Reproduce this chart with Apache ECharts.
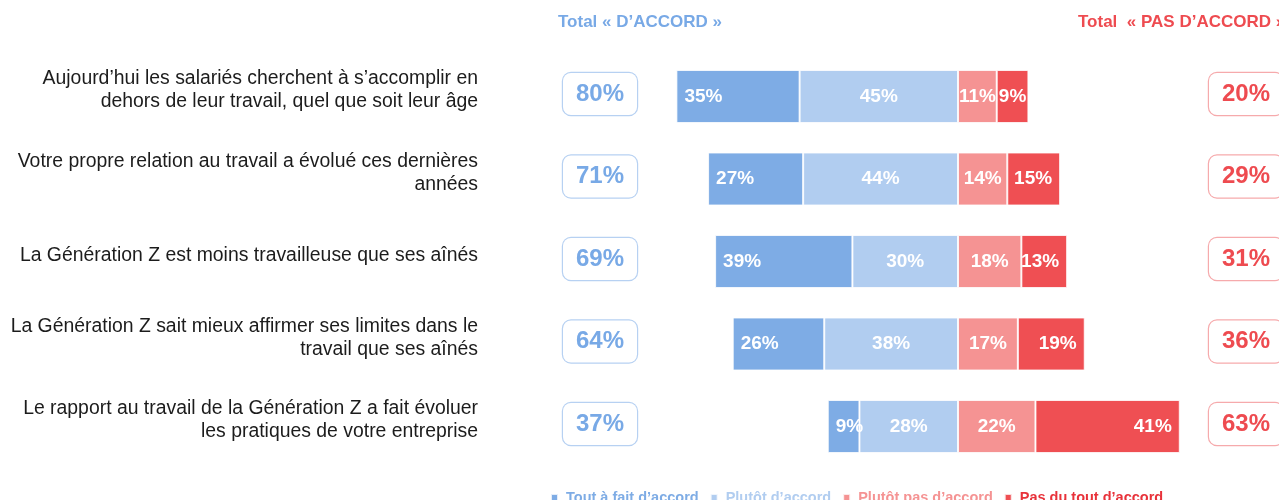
<!DOCTYPE html>
<html>
<head>
<meta charset="utf-8">
<script src="https://cdn.jsdelivr.net/npm/echarts@6/dist/echarts.min.js"></script>
<style>
  html, body { margin: 0; padding: 0; background: #fff; }
  #chart { width: 1279px; height: 500px; }
</style>
</head>
<body>
<div id="chart"></div>
<script>
const categories = [
  'Aujourd’hui les salariés cherchent à s’accomplir en\ndehors de leur travail, quel que soit leur âge',
  'Votre propre relation au travail a évolué ces dernières\nannées',
  'La Génération Z est moins travailleuse que ses aînés',
  'La Génération Z sait mieux affirmer ses limites dans le\ntravail que ses aînés',
  'Le rapport au travail de la Génération Z a fait évoluer\nles pratiques de votre entreprise'
];
const toutAFait = [35, 27, 39, 26, 9];
const plutot = [45, 44, 30, 38, 28];
const plutotPas = [11, 14, 18, 17, 22];
const pasDuTout = [9, 15, 13, 19, 41];
const totalAccord = [80, 71, 69, 64, 37];
const totalPasAccord = [20, 29, 31, 36, 63];

const FONT = "'Liberation Sans', Arial, sans-serif";
const colors = {
  tout: '#7eace5',
  plutot: '#b1cdf0',
  plutotPas: '#f59393',
  pas: '#ef4f53'
};

const chart = echarts.init(document.getElementById('chart'));

const pct = p => Math.abs(p.value) + '%';
const barLabel = (position) => ({
  show: true,
  position: position,
  distance: 8,
  formatter: pct,
  color: '#fff',
  fontSize: 19,
  fontWeight: 'bold',
  fontFamily: FONT
});

// small spacer line under the labels lifts them a few pixels
const catLabel = v => v.split('\n').map(l => '{t|' + l + '}').join('\n') + '\n{s| }';
const boxLabel = v => '{b|' + v + '}\n{s| }';
const boxStyle = (color, border) => ({
  width: 74, height: 42, lineHeight: 42, align: 'center',
  color: color, fontSize: 24, fontWeight: 'bold', fontFamily: FONT,
  borderColor: border, borderWidth: 1.2, borderRadius: 8, backgroundColor: '#fff'
});

const option = {
  animation: false,
  title: [{
    text: 'Total « D’ACCORD »',
    left: 553, top: 9,
    textStyle: { color: '#78a9e6', fontSize: 17, fontWeight: 'bold', fontFamily: FONT }
  }, {
    text: 'Total  « PAS D’ACCORD »',
    left: 1073, top: 9,
    textStyle: { color: '#ee4b50', fontSize: 17, fontWeight: 'bold', fontFamily: FONT }
  }],
  legend: {
    left: 545, top: 485,
    icon: 'rect', itemWidth: 7, itemHeight: 7, itemGap: 11,
    textStyle: { fontSize: 14.5, fontWeight: 'bold', fontFamily: FONT, padding: [0, 0, 0, 3] },
    data: [
      { name: 'Tout à fait d’accord', textStyle: { color: colors.tout } },
      { name: 'Plutôt d’accord', textStyle: { color: colors.plutot } },
      { name: 'Plutôt pas d’accord', textStyle: { color: colors.plutotPas } },
      { name: 'Pas du tout d’accord', textStyle: { color: '#e8323a' } }
    ]
  },
  grid: {
    left: 676.4, right: 95.7, top: 55.25, bottom: 32.25,
    containLabel: false, outerBoundsMode: 'none'
  },
  xAxis: { type: 'value', min: -80, max: 64, show: false },
  yAxis: [{
    type: 'category', inverse: true, data: categories, position: 'left',
    axisLine: { show: false }, axisTick: { show: false },
    axisLabel: {
      margin: 198.4, align: 'right', formatter: catLabel,
      rich: {
        t: { color: '#1c1c1c', fontSize: 19.4, lineHeight: 23, fontFamily: FONT, align: 'right' },
        s: { fontSize: 1, lineHeight: 12, height: 12 }
      }
    }
  }, {
    type: 'category', inverse: true, data: totalAccord.map(v => v + '%'), position: 'left',
    axisLine: { show: false }, axisTick: { show: false },
    axisLabel: {
      margin: 76.4, align: 'center', formatter: boxLabel,
      rich: { b: boxStyle('#78a9e6', '#b7d1f2'), s: { fontSize: 1, lineHeight: 5, height: 5 } }
    }
  }, {
    type: 'category', inverse: true, data: totalPasAccord.map(v => v + '%'), position: 'right',
    axisLine: { show: false }, axisTick: { show: false },
    axisLabel: {
      margin: 62.7, align: 'center', formatter: boxLabel,
      rich: { b: boxStyle('#ee4b50', '#f6aaac'), s: { fontSize: 1, lineHeight: 5, height: 5 } }
    }
  }],
  series: [{
    name: 'Plutôt d’accord', type: 'bar', stack: 'total', barWidth: 53,
    data: plutot.map(v => -v),
    itemStyle: { color: colors.plutot, borderColor: 'rgba(255,255,255,0.8)', borderWidth: 1 },
    label: barLabel('inside')
  }, {
    name: 'Tout à fait d’accord', type: 'bar', stack: 'total', barWidth: 53,
    data: toutAFait.map(v => -v),
    itemStyle: { color: colors.tout, borderColor: 'rgba(255,255,255,0.8)', borderWidth: 1 },
    label: barLabel('insideLeft')
  }, {
    name: 'Plutôt pas d’accord', type: 'bar', stack: 'total', barWidth: 53,
    data: plutotPas,
    itemStyle: { color: colors.plutotPas, borderColor: 'rgba(255,255,255,0.8)', borderWidth: 1 },
    label: barLabel('inside')
  }, {
    name: 'Pas du tout d’accord', type: 'bar', stack: 'total', barWidth: 53,
    // narrow segments get a centred label
    data: pasDuTout.map(v => v < 10 ? { value: v, label: { position: 'inside' } } : v),
    itemStyle: { color: colors.pas, borderColor: 'rgba(255,255,255,0.8)', borderWidth: 1 },
    label: barLabel('insideRight')
  }]
};

chart.setOption(option);
window.onresize = function () {
  chart.resize();
};
</script>
</body>
</html>
